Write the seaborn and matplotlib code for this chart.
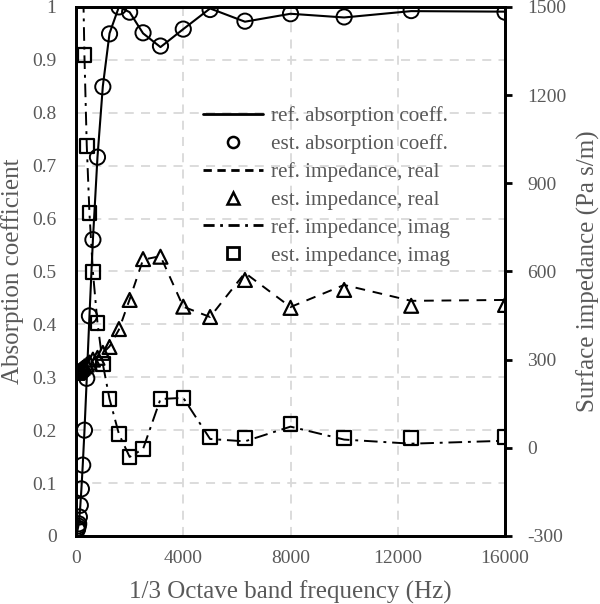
import numpy as np
import matplotlib
matplotlib.use("Agg")
import matplotlib.pyplot as plt
from matplotlib.lines import Line2D
import seaborn as sns

# 1/3 octave band centre frequencies (Hz)
freq = [50, 63, 80, 100, 125, 160, 200, 250, 315, 400, 500, 630, 800,
        1000, 1250, 1600, 2000, 2500, 3150, 4000, 5000, 6300, 8000,
        10000, 12500, 16000]

# absorption coefficient (left axis)
alpha_ref = [0.010, 0.013, 0.017, 0.022, 0.035, 0.057, 0.088, 0.133, 0.199,
             0.297, 0.415, 0.560, 0.716, 0.850, 0.950, 1.000, 0.990, 0.950,
             0.924, 0.958, 0.997, 0.972, 0.987, 0.980, 0.992, 0.991]
alpha_est = [0.012, 0.015, 0.019, 0.023, 0.036, 0.058, 0.089, 0.134, 0.200,
             0.298, 0.416, 0.560, 0.716, 0.849, 0.949, 1.000, 0.990, 0.951,
             0.926, 0.958, 0.995, 0.973, 0.987, 0.981, 0.993, 0.990]

# surface impedance, real part (right axis, Pa s/m)
zre_ref = [254, 255, 257, 259, 261, 264, 267, 271, 276, 282, 289, 298, 308,
           322, 345, 402, 505, 640, 652, 480, 445, 595, 479, 554, 500, 503]
zre_est = [255, 256, 258, 260, 262, 265, 268, 272, 277, 283, 290, 300, 306,
           323, 343, 404, 503, 642, 650, 480, 445, 571, 476, 537, 483, 486]

# surface impedance, imaginary part (right axis, Pa s/m)
zim_ref = [8200, 6500, 5100, 4000, 3200, 2500, 2000, 1650, 1330, 1030, 800,
           598, 425, 285, 166, 47, -31, -4, 166, 170, 30, 22, 72, 28, 14, 24]
zim_est = [8200, 6500, 5100, 4000, 3200, 2500, 2000, 1650, 1337, 1027, 799,
           598, 425, 285, 166, 47, -31, -4, 166, 170, 37, 33, 81, 33, 33, 37]

legend_labels = ["ref. absorption coeff.", "est. absorption coeff.",
                 "ref. impedance, real", "est. impedance, real",
                 "ref. impedance, imag", "est. impedance, imag"]

sns.set_style("white")
plt.rcParams['font.family'] = ['Liberation Serif', 'DejaVu Serif']
plt.rcParams['axes.unicode_minus'] = False

grey = '#595959'
dashdot = (0, (7, 3, 1.5, 3))

fig = plt.figure(figsize=(6.0, 6.04), dpi=100)
ax = fig.add_axes([0.1267, 0.1126, 0.715, 0.876])
ax2 = ax.twinx()

# absorption coefficient
sns.lineplot(x=freq, y=alpha_ref, ax=ax, color='black', lw=1.5)
sns.scatterplot(x=freq, y=alpha_est, ax=ax, marker='o', s=120,
                facecolors='none', edgecolor='black', linewidth=1.4, zorder=3)

# impedance real / imag
sns.lineplot(x=freq, y=zre_ref, ax=ax2, color='black', lw=1.4, linestyle=(0, (5, 4)))
sns.scatterplot(x=freq, y=zre_est, ax=ax2, marker='^', s=100,
                facecolors='none', edgecolor='black', linewidth=1.6, zorder=3)
sns.lineplot(x=freq, y=zim_ref, ax=ax2, color='black', lw=1.4, linestyle=dashdot)
sns.scatterplot(x=freq, y=zim_est, ax=ax2, marker='s', s=95,
                facecolors='none', edgecolor='black', linewidth=1.6, zorder=3)

ax.set_xlim(0, 16000)
ax.set_ylim(0, 1)
ax2.set_ylim(-300, 1500)
ax.set_xticks([0, 4000, 8000, 12000, 16000])
ax.set_yticks(np.arange(0, 1.01, 0.1))
ax.set_yticklabels(['0', '0.1', '0.2', '0.3', '0.4', '0.5', '0.6', '0.7', '0.8', '0.9', '1'])
ax2.set_yticks([-300, 0, 300, 600, 900, 1200, 1500])

ax.grid(True, color='#d9d9d9', linestyle=(0, (5, 4)), linewidth=1.3)
ax2.grid(False)

for a in (ax, ax2):
    for sp in a.spines.values():
        sp.set_color('black')
        sp.set_linewidth(2.0)

ax.tick_params(axis='y', labelsize=14, labelcolor=grey, length=0, pad=14)
ax.tick_params(axis='x', labelsize=14, labelcolor=grey, length=0, pad=10)
ax2.tick_params(axis='y', labelsize=14, labelcolor=grey, length=5, width=2,
                direction='out', color='black', pad=11)

ax.set_xlabel('1/3 Octave band frequency (Hz)', fontsize=18, color=grey, labelpad=10)
ax.set_ylabel('Absorption coefficient', fontsize=18, color=grey, labelpad=6)
ax2.set_ylabel('Surface impedance (Pa s/m)', fontsize=18, color=grey, labelpad=7)

handles = [
    Line2D([], [], color='black', lw=2),
    Line2D([], [], marker='o', ls='none', mfc='none', mec='black', ms=8, mew=1.8),
    Line2D([], [], color='black', lw=2, ls=(0, (3, 2))),
    Line2D([], [], marker='^', ls='none', mfc='none', mec='black', ms=8, mew=1.8),
    Line2D([], [], color='black', lw=2, ls=(0, (4, 2, 1, 2))),
    Line2D([], [], marker='s', ls='none', mfc='none', mec='black', ms=8, mew=2),
]
leg = ax2.legend(handles, legend_labels, loc='upper left',
                 bbox_to_anchor=(0.297, 0.812), frameon=False, fontsize=15.2,
                 handlelength=2.8, handletextpad=0.4, labelspacing=0.38,
                 borderpad=0, borderaxespad=0)
for t in leg.get_texts():
    t.set_color(grey)

fig.savefig('out.png', dpi=100)
